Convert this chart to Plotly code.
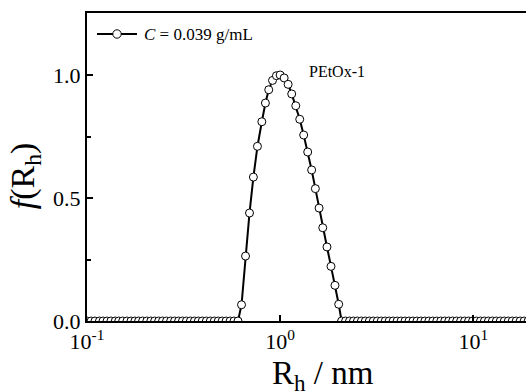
import math
import plotly.graph_objects as go

# Peak region (R_h in nm, f(R_h))
peak_x = [0.605, 0.631, 0.662, 0.694, 0.727, 0.763, 0.804, 0.839, 0.873, 0.913,
          0.957, 1.000, 1.049, 1.100, 1.148, 1.205, 1.263, 1.324, 1.389, 1.456,
          1.522, 1.591, 1.662, 1.748, 1.834, 1.923, 2.010, 2.080]
peak_y = [0.0, 0.066, 0.264, 0.439, 0.585, 0.710, 0.810, 0.886, 0.940, 0.978,
          0.997, 1.000, 0.988, 0.962, 0.923, 0.875, 0.820, 0.756, 0.687, 0.614,
          0.538, 0.459, 0.379, 0.301, 0.222, 0.145, 0.068, 0.0]

# Zero-valued points below and above the peak
low_x = [0.100, 0.105, 0.110, 0.116, 0.121, 0.127, 0.133, 0.140, 0.146, 0.153,
         0.161, 0.169, 0.177, 0.185, 0.194, 0.204, 0.214, 0.224, 0.235, 0.246,
         0.258, 0.271, 0.284, 0.298, 0.312, 0.327, 0.343, 0.360, 0.377, 0.395,
         0.415, 0.435, 0.456, 0.478, 0.501, 0.525, 0.551, 0.577]
low_y = [0.0] * len(low_x)
high_x = [2.181, 2.287, 2.397, 2.513, 2.635, 2.762, 2.896, 3.036, 3.184, 3.338,
          3.500, 3.669, 3.847, 4.034, 4.229, 4.434, 4.649, 4.874, 5.110, 5.358,
          5.617, 5.890, 6.175, 6.474, 6.788, 7.117, 7.462, 7.823, 8.203, 8.600,
          9.017, 9.454, 9.913, 10.39, 10.90, 11.42, 11.98, 12.56, 13.17, 13.80,
          14.47, 15.18, 15.91, 16.68, 17.49, 18.34, 19.23]
high_y = [0.0] * len(high_x)

x_all = low_x + peak_x + high_x
y_all = low_y + peak_y + high_y

x_tickvals = [0.1, 1, 10]
x_ticktext = ["10<sup>-1</sup>", "10<sup>0</sup>", "10<sup>1</sup>"]
y_tickvals = [0.0, 0.5, 1.0]
y_ticktext = ["0.0", "0.5", "1.0"]

series_name = "<i>C</i> = 0.039 g/mL"
sample_label = "PEtOx-1"
sample_label_pos = (1.37, 1.015)

FONT = "Liberation Serif, Times New Roman, serif"
W, H = 526, 392
ML, MR, MT, MB = 87, 0, 13, 71
PW, PH = W - ML - MR, H - MT - MB


def px_to_paper(px, py):
    return (px - ML) / PW, (H - MB - py) / PH


fig = go.Figure()
fig.add_trace(go.Scatter(
    x=x_all, y=y_all, mode="lines+markers",
    name=series_name, showlegend=False,
    line=dict(color="black", width=2),
    marker=dict(symbol="circle", size=8, color="white",
                line=dict(color="black", width=1)),
    cliponaxis=True,
))

# Legend drawn by hand (longer sample line than Plotly's built-in legend)
lx0, ly = px_to_paper(97, 34)
lx1, _ = px_to_paper(137, 34)
lxc, _ = px_to_paper(117, 34)
rx, ry = 4.2 / PW, 4.2 / PH
ltx, _ = px_to_paper(142, 34)

shapes = [
    dict(type="line", xref="paper", yref="paper", x0=lx0, x1=lx1, y0=ly, y1=ly,
         line=dict(color="black", width=2)),
    dict(type="circle", xref="paper", yref="paper",
         x0=lxc - rx, x1=lxc + rx, y0=ly - ry, y1=ly + ry,
         fillcolor="white", line=dict(color="black", width=1)),
]

fig.update_layout(
    width=W, height=H,
    margin=dict(l=ML, r=MR, t=MT, b=MB),
    paper_bgcolor="white", plot_bgcolor="white",
    font=dict(family=FONT, color="black"),
    showlegend=False,
    shapes=shapes,
    xaxis=dict(type="log", range=[-1.0, 1.273],
               tickvals=x_tickvals, ticktext=x_ticktext,
               ticks="inside", ticklen=6, tickwidth=2, tickcolor="black",
               showline=True, linecolor="black", linewidth=2, mirror=True,
               showgrid=False, zeroline=False,
               tickfont=dict(size=22, family=FONT)),
    yaxis=dict(range=[0, 1.252],
               tickvals=y_tickvals, ticktext=y_ticktext,
               ticks="inside", ticklen=6, tickwidth=2, tickcolor="black",
               minor=dict(tickvals=[0.25, 0.75], ticks="inside", ticklen=4,
                          tickwidth=2, tickcolor="black"),
               showline=True, linecolor="black", linewidth=2, mirror=False,
               showgrid=False, zeroline=False,
               tickfont=dict(size=22, family=FONT)),
    annotations=[
        dict(text=series_name, x=ltx, y=ly, xref="paper", yref="paper",
             xanchor="left", yanchor="middle", showarrow=False,
             font=dict(size=17, family=FONT)),
        dict(text=sample_label, x=math.log10(sample_label_pos[0]), y=sample_label_pos[1],
             xref="x", yref="y",
             xanchor="left", yanchor="middle", showarrow=False,
             font=dict(size=16, family=FONT)),
        dict(text="R<sub>h</sub> / nm", x=0.5376, y=0, xref="paper", yref="paper",
             xanchor="center", yanchor="top", showarrow=False, yshift=-32,
             font=dict(size=33, family=FONT)),
        dict(text="<i>f</i>(R<sub>h</sub>)", x=0, y=0.47, xref="paper", yref="paper",
             xanchor="center", yanchor="middle", showarrow=False, textangle=-90,
             xshift=-62, font=dict(size=34, family=FONT)),
    ],
)

fig.write_html("out.html")
